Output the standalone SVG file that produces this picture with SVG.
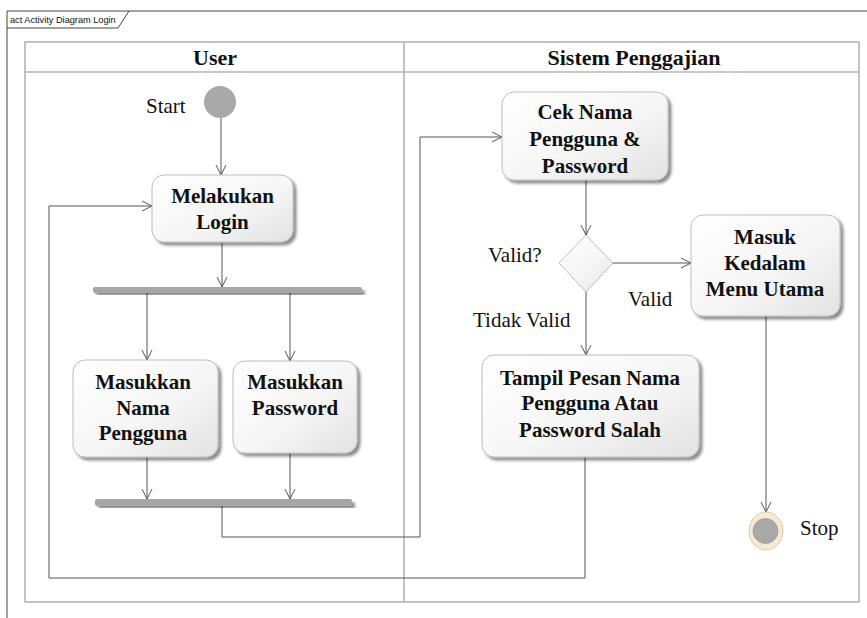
<svg xmlns="http://www.w3.org/2000/svg" width="867" height="618" viewBox="0 0 867 618">
  <defs>
    <linearGradient id="actFill" x1="0" y1="0" x2="1" y2="1">
      <stop offset="0" stop-color="#ffffff"/>
      <stop offset="0.55" stop-color="#f6f6f6"/>
      <stop offset="1" stop-color="#e2e2e2"/>
    </linearGradient>
    <filter id="shadow" x="-10%" y="-10%" width="125%" height="130%">
      <feGaussianBlur in="SourceAlpha" stdDeviation="1.5"/>
      <feOffset dx="3" dy="3" result="off"/>
      <feComponentTransfer><feFuncA type="linear" slope="0.45"/></feComponentTransfer>
      <feMerge><feMergeNode/><feMergeNode in="SourceGraphic"/></feMerge>
    </filter>
    <marker id="arrow" markerWidth="12" markerHeight="12" refX="11" refY="6" orient="auto" markerUnits="userSpaceOnUse">
      <path d="M1,1 L11,6 L1,11" fill="none" stroke="#555" stroke-width="1"/>
    </marker>
    <style>
      .frame { fill: none; stroke: #444; stroke-width: 1; }
      .lane { fill: none; stroke: #b4b4b4; stroke-width: 1.6; }
      .title { font-family: "Liberation Sans", Arial, sans-serif; font-size: 9.2px; fill: #111; }
      .head { font-family: "Liberation Serif", "Times New Roman", serif; font-size: 22px; font-weight: bold; fill: #111; text-anchor: middle; }
      .act { fill: url(#actFill); stroke: #bdbdbd; stroke-width: 1; filter: url(#shadow); }
      .atext { font-family: "Liberation Serif", "Times New Roman", serif; font-size: 21px; font-weight: bold; fill: #111; text-anchor: middle; }
      .label { font-family: "Liberation Serif", "Times New Roman", serif; font-size: 21px; fill: #111; }
      .bar { fill: #a6a6a6; filter: url(#shadow); }
      .edge { fill: none; stroke: #555; stroke-width: 1; }
    </style>
  </defs>

  <rect width="867" height="618" fill="#ffffff"/>

  <!-- diagram frame and name tab -->
  <g id="frame">
    <path class="frame" d="M7,618 L7,11 L867,11"/>
    <path class="frame" d="M7,28 L118,28 L129,11"/>
    <text class="title" x="10" y="23">act Activity Diagram Login</text>
  </g>

  <!-- swimlanes -->
  <g id="lanes">
    <rect class="lane" x="25" y="42" width="834" height="560"/>
    <line class="lane" x1="25" y1="72" x2="859" y2="72"/>
    <line class="lane" x1="404" y1="42" x2="404" y2="602"/>
    <text class="head" x="215" y="65">User</text>
    <text class="head" x="634" y="65">Sistem Penggajian</text>
  </g>

  <!-- connectors -->
  <g id="connectors">
    <path class="edge" d="M221,118 L221,175" marker-end="url(#arrow)"/>
    <path class="edge" d="M222,243 L222,287" marker-end="url(#arrow)"/>
    <path class="edge" d="M147,293 L147,360" marker-end="url(#arrow)"/>
    <path class="edge" d="M290,293 L290,361" marker-end="url(#arrow)"/>
    <path class="edge" d="M147,457 L147,499" marker-end="url(#arrow)"/>
    <path class="edge" d="M290,453 L290,499" marker-end="url(#arrow)"/>
    <path class="edge" d="M222,506 L222,537 L420,537 L420,137 L502,137" marker-end="url(#arrow)"/>
    <path class="edge" d="M586,180 L586,235" marker-end="url(#arrow)"/>
    <path class="edge" d="M613,263 L691,263" marker-end="url(#arrow)"/>
    <path class="edge" d="M586,292 L586,355" marker-end="url(#arrow)"/>
    <path class="edge" d="M585,457 L585,578 L49,578 L49,206 L152,206" marker-end="url(#arrow)"/>
    <path class="edge" d="M766,316 L766,512" marker-end="url(#arrow)"/>
  </g>

  <!-- nodes -->
  <g id="start">
    <circle cx="220" cy="102" r="16" fill="#a9a9a9"/>
    <text class="label" x="146" y="113">Start</text>
  </g>

  <g id="melakukan-login">
    <rect class="act" x="152" y="175" width="141" height="67" rx="12"/>
    <text class="atext" x="222.5" y="203">Melakukan</text>
    <text class="atext" x="222.5" y="229">Login</text>
  </g>

  <g id="fork">
    <rect class="bar" x="93" y="287" width="269" height="6" rx="2"/>
  </g>

  <g id="masukkan-nama">
    <rect class="act" x="73" y="360" width="145" height="97" rx="12"/>
    <text class="atext" x="143" y="389">Masukkan</text>
    <text class="atext" x="143" y="415">Nama</text>
    <text class="atext" x="143" y="440">Pengguna</text>
  </g>

  <g id="masukkan-password">
    <rect class="act" x="233" y="361" width="124" height="92" rx="12"/>
    <text class="atext" x="295" y="389">Masukkan</text>
    <text class="atext" x="295" y="415">Password</text>
  </g>

  <g id="join">
    <rect class="bar" x="95" y="499" width="257" height="7" rx="2"/>
  </g>

  <g id="cek-nama">
    <rect class="act" x="502" y="92" width="166" height="88" rx="12"/>
    <text class="atext" x="585" y="119">Cek Nama</text>
    <text class="atext" x="585" y="146">Pengguna &amp;</text>
    <text class="atext" x="585" y="173">Password</text>
  </g>

  <g id="valid-decision">
    <path d="M586,235 L613,263 L586,292 L559,263 Z" fill="url(#actFill)" stroke="#bdbdbd" stroke-width="1"/>
    <text class="label" x="488" y="262">Valid?</text>
    <text class="label" x="628" y="306">Valid</text>
    <text class="label" x="473" y="327">Tidak Valid</text>
  </g>

  <g id="masuk-menu">
    <rect class="act" x="691" y="215" width="149" height="101" rx="12"/>
    <text class="atext" x="765" y="244">Masuk</text>
    <text class="atext" x="765" y="270">Kedalam</text>
    <text class="atext" x="765" y="296">Menu Utama</text>
  </g>

  <g id="tampil-pesan">
    <rect class="act" x="482" y="355" width="217" height="102" rx="12"/>
    <text class="atext" x="590" y="385">Tampil Pesan Nama</text>
    <text class="atext" x="590" y="410">Pengguna Atau</text>
    <text class="atext" x="590" y="437">Password Salah</text>
  </g>

  <g id="stop">
    <ellipse cx="766" cy="531" rx="17" ry="19" fill="#f6ead2" stroke="#d9c9a6" stroke-width="1"/>
    <circle cx="765.5" cy="531" r="12.5" fill="#a9a9a9" stroke="#9a9a9a" stroke-width="0.8"/>
    <text class="label" x="800" y="535">Stop</text>
  </g>
</svg>
